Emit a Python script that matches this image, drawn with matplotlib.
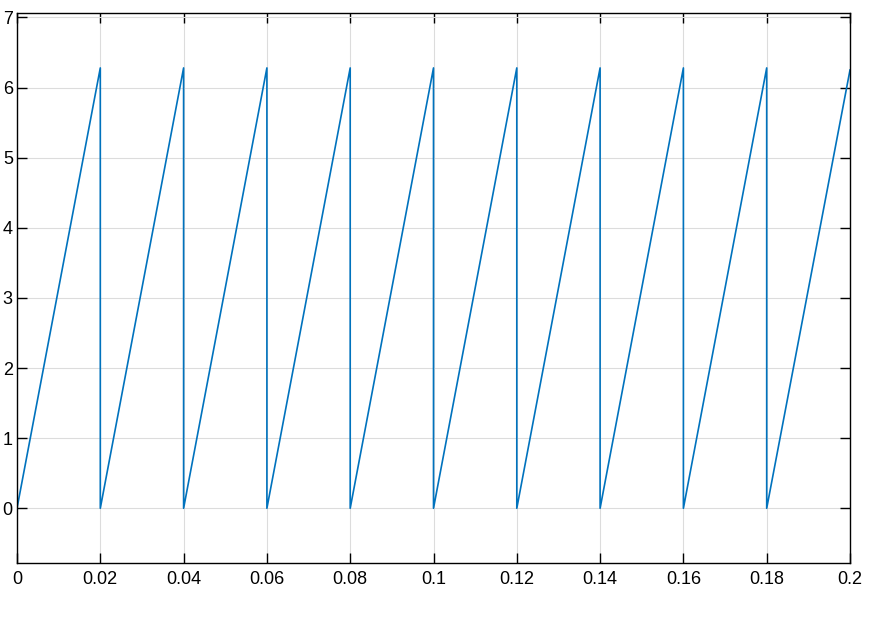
import matplotlib.pyplot as plt

# sawtooth vertices (period 0.02 s, peak ~2*pi)
t = [0, 0.02, 0.02, 0.04, 0.04, 0.06, 0.06, 0.08, 0.08, 0.10, 0.10,
     0.12, 0.12, 0.14, 0.14, 0.16, 0.16, 0.18, 0.18, 0.20]
y = [0, 6.28, 0, 6.28, 0, 6.28, 0, 6.28, 0, 6.28, 0,
     6.28, 0, 6.28, 0, 6.28, 0, 6.28, 0, 6.25]

x_ticks = [0, 0.02, 0.04, 0.06, 0.08, 0.1, 0.12, 0.14, 0.16, 0.18, 0.2]
x_labels = ['0', '0.02', '0.04', '0.06', '0.08', '0.1', '0.12', '0.14', '0.16', '0.18', '0.2']
y_ticks = [0, 1, 2, 3, 4, 5, 6, 7]

plt.rcParams['font.family'] = ['Liberation Sans', 'DejaVu Sans']

fig = plt.figure(figsize=(8.75, 6.19), dpi=100)
ax = fig.add_axes([17 / 875, 1 - 563 / 619, 833 / 875, 550.5 / 619])

ax.plot(t, y, color='#0072BD', lw=1.2)

ax.set_xlim(0, 0.2)
ax.set_ylim(-0.78, 7.07)
ax.set_xticks(x_ticks)
ax.set_xticklabels(x_labels)
ax.set_yticks(y_ticks)

ax.grid(True, color='#dcdcdc', lw=0.8)
ax.set_axisbelow(True)
ax.tick_params(direction='in', length=7, width=1, top=True, right=True,
               labelsize=13)
ax.tick_params(axis='x', pad=6)
ax.tick_params(axis='y', pad=3)
for s in ax.spines.values():
    s.set_linewidth(1)

fig.savefig('out.png', dpi=100)
